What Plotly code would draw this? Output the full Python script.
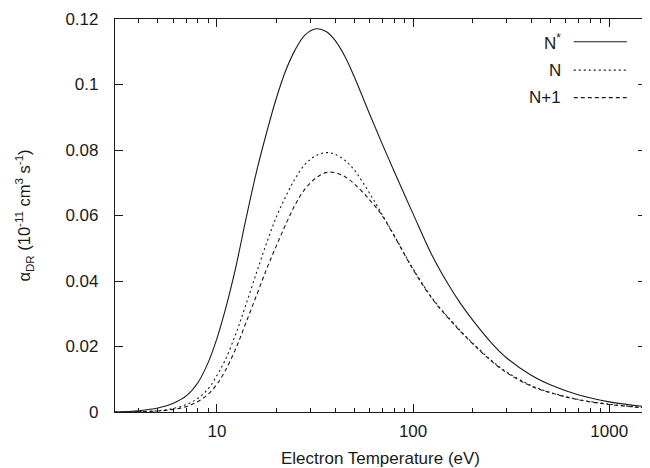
import numpy as np
import plotly.graph_objects as go

# Electron temperature grid (eV)
temperature = [3, 4, 5, 6, 7, 8, 9, 10, 11, 12.5, 14, 16, 18, 20, 22.5, 25, 28, 32, 36, 40,
               45, 50, 60, 70, 80, 100, 125, 150, 175, 200, 250, 300, 400, 500, 700, 1000, 1540]

# alpha_DR (1e-11 cm^3 s^-1)
n_star = [0.0000, 0.0004, 0.0012, 0.0027, 0.0050, 0.0090, 0.0150, 0.0225, 0.0310, 0.0445,
          0.0585, 0.0740, 0.0858, 0.0955, 0.1045, 0.1105, 0.1150, 0.1170, 0.1162, 0.1135,
          0.1085, 0.1025, 0.0910, 0.0815, 0.0735, 0.0605, 0.0478, 0.0393, 0.0330, 0.0283,
          0.0212, 0.0165, 0.0112, 0.0083, 0.0052, 0.0031, 0.0016]
n_val = [0.0000, 0.0001, 0.0004, 0.0011, 0.0023, 0.0042, 0.0070, 0.0112, 0.0158, 0.0240,
         0.0325, 0.0430, 0.0520, 0.0593, 0.0660, 0.0712, 0.0755, 0.0783, 0.0792, 0.0787,
         0.0768, 0.0740, 0.0668, 0.0600, 0.0540, 0.0437, 0.0348, 0.0291, 0.0247, 0.0212,
         0.0158, 0.0122, 0.0081, 0.0060, 0.0038, 0.0024, 0.0013]
n_plus1 = [0.0000, 0.0001, 0.0003, 0.0008, 0.0017, 0.0032, 0.0054, 0.0085, 0.0125, 0.0195,
           0.0270, 0.0360, 0.0440, 0.0505, 0.0575, 0.0632, 0.0680, 0.0715, 0.0731, 0.0731,
           0.0718, 0.0697, 0.0648, 0.0597, 0.0538, 0.0435, 0.0346, 0.0289, 0.0245, 0.0210,
           0.0156, 0.0120, 0.0079, 0.0059, 0.0037, 0.0023, 0.0012]

series_names = ["N<sup>*</sup>", "N", "N+1"]
series_dash = ["solid", "2px,3px", "4px,3px"]

y_ticks = [0, 0.02, 0.04, 0.06, 0.08, 0.1, 0.12]
y_ticktext = ["0", "0.02", "0.04", "0.06", "0.08", "0.1", "0.12"]
x_major = [10, 100, 1000]
x_minor = [4, 5, 6, 7, 8, 9, 20, 30, 40, 50, 60, 70, 80, 90,
           200, 300, 400, 500, 600, 700, 800, 900]

FONT = "Liberation Sans, Arial, Helvetica, sans-serif"
INK = "#1a1a1a"

fig = go.Figure()
for vals, dash in zip([n_star, n_val, n_plus1], series_dash):
    fig.add_trace(go.Scatter(x=temperature, y=vals, mode="lines",
                             line=dict(color=INK, width=1.1, dash=dash, shape="spline", smoothing=1.0),
                             showlegend=False, hoverinfo="skip"))

# gnuplot-style key: text on the left, sample line on the right
key_rows = [0.942, 0.870, 0.800]
for name, dash, yk in zip(series_names, series_dash, key_rows):
    fig.add_annotation(x=0.842, y=yk, xref="paper", yref="paper", text=name,
                       showarrow=False, xanchor="right", yanchor="middle", borderpad=0,
                       font=dict(size=17, color=INK, family=FONT))
    fig.add_shape(type="line", xref="paper", yref="paper", x0=0.864, x1=0.964, y0=yk, y1=yk,
                  line=dict(color=INK, width=1.1, dash=dash))

fig.update_xaxes(type="log", range=[np.log10(3.02), np.log10(1540)], automargin=False,
                 tickmode="array", tickvals=x_major, ticktext=["10", "100", "1000"],
                 ticks="inside", ticklen=8, tickwidth=1, tickcolor=INK,
                 minor=dict(tickmode="array", tickvals=x_minor, ticks="inside", ticklen=4,
                            tickwidth=1, tickcolor=INK),
                 showline=True, linecolor=INK, linewidth=1.2, mirror="ticks",
                 showgrid=False, zeroline=False, ticklabelstandoff=3,
                 tickfont=dict(size=17, color=INK, family=FONT),
                 title=dict(text="Electron Temperature (eV)", standoff=12,
                            font=dict(size=17, color=INK, family=FONT)))
fig.update_yaxes(range=[0, 0.12], automargin=False,
                 tickmode="array", tickvals=y_ticks, ticktext=y_ticktext,
                 ticks="inside", ticklen=8, tickwidth=1, tickcolor=INK,
                 showline=True, linecolor=INK, linewidth=1.2, mirror="ticks",
                 showgrid=False, zeroline=False, ticklabelstandoff=12,
                 tickfont=dict(size=17, color=INK, family=FONT),
                 title=dict(text="α<sub>DR</sub> (10<sup>-11</sup> cm<sup>3</sup> s<sup>-1</sup>)",
                            standoff=30, font=dict(size=16.5, color=INK, family=FONT)))

# the page adds an 8px body margin, so the figure is sized to fill the rest of the window
fig.update_layout(width=642, height=460, margin=dict(l=107, r=4, t=11, b=56),
                  plot_bgcolor="white", paper_bgcolor="white",
                  font=dict(family=FONT, color=INK))

fig.write_html("out.html")
